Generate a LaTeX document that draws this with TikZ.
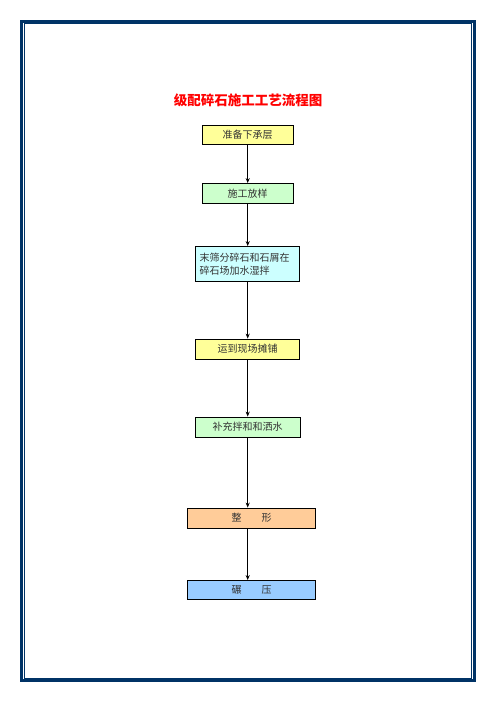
\documentclass[tikz,border=0pt]{standalone}
\usepackage{fontspec}
\usepackage{xcolor}
\usepackage{tikz}
\usetikzlibrary{arrows.meta}
\newfontfamily\cjk{Noto Sans CJK SC}
\definecolor{framec}{HTML}{003366}
\definecolor{fillyel}{HTML}{FFFF99}
\definecolor{fillgrn}{HTML}{CCFFCC}
\definecolor{fillcyn}{HTML}{CCFFFF}
\definecolor{fillorg}{HTML}{FFCC99}
\definecolor{fillblu}{HTML}{99CCFF}

\begin{document}
\begin{tikzpicture}[x=1pt,y=-1pt,
    stepbox/.style={draw=black,line width=0.8pt,inner sep=0pt,font=\cjk\fontsize{10}{13}\selectfont,text=black!80},
    arr/.style={line width=0.8pt,black,-{Stealth[length=5pt,width=4pt]}}]
                          \useasboundingbox (0,0) rectangle (496,702);
                          % page frame
                          \draw[line width=3pt,framec](21.5,21)rectangle(474,680.5);
                          \draw[line width=0.8pt,framec](24,23.7)rectangle(471.5,678);
                          % title
                          \node[font=\cjk\bfseries\fontsize{13.5}{16}\selectfont,text=red,inner sep=0pt] (title) at (248,100) {级配碎石施工工艺流程图};
                          % steps
                          \node[stepbox,fill=fillyel,minimum width=91pt,minimum height=19pt] (b1) at (247.7,134.5) {准备下承层};
                          \node[stepbox,fill=fillgrn,minimum width=91pt,minimum height=20pt] (b2) at (247.7,193.5) {施工放样};
                          \node[stepbox,fill=fillcyn,minimum width=104pt,minimum height=35pt,text width=96pt,align=left] (b3) at (247.7,264) {末筛分碎石和石屑在\\碎石场加水湿拌};
                          \node[stepbox,fill=fillyel,minimum width=104pt,minimum height=20pt] (b4) at (247.7,349) {运到现场摊铺};
                          \node[stepbox,fill=fillgrn,minimum width=105pt,minimum height=20pt] (b5) at (247.7,427) {补充拌和和洒水};
                          \node[stepbox,fill=fillorg,minimum width=128pt,minimum height=20pt] (b6) at (251.5,518) {整\hspace{20pt}形};
                          \node[stepbox,fill=fillblu,minimum width=128pt,minimum height=19pt] (b7) at (251.5,590) {碾\hspace{20pt}压};
                          % arrows
                          \draw[arr](b1.south)--(b2.north);
                          \draw[arr](b2.south)--(b3.north);
                          \draw[arr](b3.south)--(b4.north);
                          \draw[arr](b4.south)--(b5.north);
                          \draw[arr](b5.south)--(b5.south|-b6.north);
                          \draw[arr](b5.south|-b6.south)--(b5.south|-b7.north);
                        \end{tikzpicture}
\end{document}
